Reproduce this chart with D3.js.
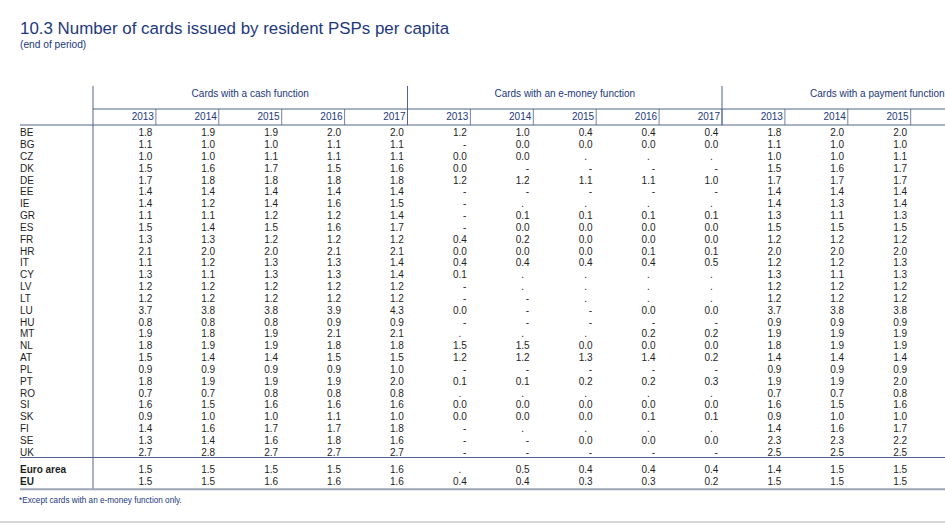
<!DOCTYPE html>
<html>
<head>
<meta charset="utf-8">
<script src="https://cdn.jsdelivr.net/npm/d3@7"></script>
<style>
  body { margin: 0; background: #fff; }
  text { font-family: "Liberation Sans", Arial, sans-serif; }
</style>
</head>
<body>
<svg></svg>
<script>
// data read off the table ("-" = nil, "." = not available)
var countries = ['BE', 'BG', 'CZ', 'DK', 'DE', 'EE', 'IE', 'GR', 'ES', 'FR', 'HR', 'IT', 'CY', 'LV',
  'LT', 'LU', 'HU', 'MT', 'NL', 'AT', 'PL', 'PT', 'RO', 'SI', 'SK', 'FI', 'SE', 'UK']
var aggregates = ['Euro area', 'EU']
var years = ['2013', '2014', '2015', '2016', '2017']
var groups = ['Cards with a cash function', 'Cards with an e-money function', 'Cards with a payment function*']

var cashValues = [
  [1.8, 1.9, 1.9, 2.0, 2.0], [1.1, 1.0, 1.0, 1.1, 1.1], [1.0, 1.0, 1.1, 1.1, 1.1], [1.5, 1.6, 1.7, 1.5, 1.6],
  [1.7, 1.8, 1.8, 1.8, 1.8], [1.4, 1.4, 1.4, 1.4, 1.4], [1.4, 1.2, 1.4, 1.6, 1.5], [1.1, 1.1, 1.2, 1.2, 1.4],
  [1.5, 1.4, 1.5, 1.6, 1.7], [1.3, 1.3, 1.2, 1.2, 1.2], [2.1, 2.0, 2.0, 2.1, 2.1], [1.1, 1.2, 1.3, 1.3, 1.4],
  [1.3, 1.1, 1.3, 1.3, 1.4], [1.2, 1.2, 1.2, 1.2, 1.2], [1.2, 1.2, 1.2, 1.2, 1.2], [3.7, 3.8, 3.8, 3.9, 4.3],
  [0.8, 0.8, 0.8, 0.9, 0.9], [1.9, 1.8, 1.9, 2.1, 2.1], [1.8, 1.9, 1.9, 1.8, 1.8], [1.5, 1.4, 1.4, 1.5, 1.5],
  [0.9, 0.9, 0.9, 0.9, 1.0], [1.8, 1.9, 1.9, 1.9, 2.0], [0.7, 0.7, 0.8, 0.8, 0.8], [1.6, 1.5, 1.6, 1.6, 1.6],
  [0.9, 1.0, 1.0, 1.1, 1.0], [1.4, 1.6, 1.7, 1.7, 1.8], [1.3, 1.4, 1.6, 1.8, 1.6], [2.7, 2.8, 2.7, 2.7, 2.7],
  [1.5, 1.5, 1.5, 1.5, 1.6], [1.5, 1.5, 1.6, 1.6, 1.6]
]

var emoneyValues = [
  [1.2, 1.0, 0.4, 0.4, 0.4], ['-', 0.0, 0.0, 0.0, 0.0], [0.0, 0.0, '.', '.', '.'], [0.0, '-', '-', '-', '-'],
  [1.2, 1.2, 1.1, 1.1, 1.0], ['-', '-', '-', '-', '-'], ['-', '.', '.', '.', '.'], ['-', 0.1, 0.1, 0.1, 0.1],
  ['-', 0.0, 0.0, 0.0, 0.0], [0.4, 0.2, 0.0, 0.0, 0.0], [0.0, 0.0, 0.0, 0.1, 0.1], [0.4, 0.4, 0.4, 0.4, 0.5],
  [0.1, '.', '.', '.', '.'], ['-', '.', '.', '.', '.'], ['-', '-', '.', '.', '.'], [0.0, '-', '-', 0.0, 0.0],
  ['-', '-', '-', '-', '-'], ['.', '.', '.', 0.2, 0.2], [1.5, 1.5, 0.0, 0.0, 0.0], [1.2, 1.2, 1.3, 1.4, 0.2],
  ['-', '-', '-', '-', '-'], [0.1, 0.1, 0.2, 0.2, 0.3], ['.', '.', '.', '.', '.'], [0.0, 0.0, 0.0, 0.0, 0.0],
  [0.0, 0.0, 0.0, 0.1, 0.1], ['-', '.', '.', '.', '.'], ['-', '-', 0.0, 0.0, 0.0], ['-', '-', '-', '-', '-'],
  ['.', 0.5, 0.4, 0.4, 0.4], [0.4, 0.4, 0.3, 0.3, 0.2]
]

// only 2013-2015 of the payment block are visible
var paymentValues = [
  [1.8, 2.0, 2.0], [1.1, 1.0, 1.0], [1.0, 1.0, 1.1], [1.5, 1.6, 1.7], [1.7, 1.7, 1.7], [1.4, 1.4, 1.4],
  [1.4, 1.3, 1.4], [1.3, 1.1, 1.3], [1.5, 1.5, 1.5], [1.2, 1.2, 1.2], [2.0, 2.0, 2.0], [1.2, 1.2, 1.3],
  [1.3, 1.1, 1.3], [1.2, 1.2, 1.2], [1.2, 1.2, 1.2], [3.7, 3.8, 3.8], [0.9, 0.9, 0.9], [1.9, 1.9, 1.9],
  [1.8, 1.9, 1.9], [1.4, 1.4, 1.4], [0.9, 0.9, 0.9], [1.9, 1.9, 2.0], [0.7, 0.7, 0.8], [1.6, 1.5, 1.6],
  [0.9, 1.0, 1.0], [1.4, 1.6, 1.7], [2.3, 2.3, 2.2], [2.5, 2.5, 2.5], [1.4, 1.5, 1.5], [1.5, 1.5, 1.5]
]

var svgWidth = 945, svgHeight = 531
var navy = '#22387d', lineCol = '#51628f', textCol = '#1e1e1e'
var labelX = 20, tableLeft = 93, colW = 62.9
var headTop = 86, groupLine = 109, headLine = 125

var svg = d3.select('svg')
  .attr('width', svgWidth)
  .attr('height', svgHeight)

// column scale: 15 year-columns (3 groups x 5 years), value = right edge of column i-1
var x = d3.scaleLinear().domain([0, 15]).range([tableLeft, tableLeft + 15 * colW])
// row scale for the countries, aggregates sit a little lower
var y = d3.scaleLinear().domain([0, countries.length - 1]).range([132.7, 452.3])
var allRows = countries.concat(aggregates)
function rowY(i) { return i < countries.length ? y(i) : y(i) + 5.4 }
var sepY = 457.5, bottomY = 489.3

// title
svg.append('text').attr('x', labelX).attr('y', 34)
  .attr('font-size', 16.9).attr('fill', navy)
  .text('10.3 Number of cards issued by resident PSPs per capita')
svg.append('text').attr('x', labelX).attr('y', 47.5)
  .attr('font-size', 10.2).attr('fill', navy)
  .text('(end of period)')

// header lines
svg.append('line').attr('x1', tableLeft).attr('x2', tableLeft)
  .attr('y1', headTop).attr('y2', bottomY).attr('stroke', lineCol)
groups.forEach(function(g, gi) {
  if (gi > 0) {
    svg.append('line').attr('x1', x(gi * 5)).attr('x2', x(gi * 5))
      .attr('y1', headTop).attr('y2', headLine).attr('stroke', lineCol)
  }
  svg.append('text')
    .attr('x', (x(gi * 5) + x(gi * 5 + 5)) / 2).attr('y', 93.3).attr('dy', '0.35em')
    .attr('text-anchor', 'middle').attr('font-size', 10).attr('fill', navy)
    .text(g)
  years.forEach(function(yr, yi) {
    var c = gi * 5 + yi + 1
    if (x(c) - 24 > svgWidth) return   // column lies past the page edge
    svg.append('line').attr('x1', x(c)).attr('x2', x(c))
      .attr('y1', groupLine).attr('y2', headLine).attr('stroke', lineCol).attr('stroke-width', 0.8)
    svg.append('text')
      .attr('x', x(c) - 2).attr('y', 116.8).attr('dy', '0.35em')
      .attr('text-anchor', 'end').attr('font-size', 10).attr('fill', navy)
      .text(yr)
  })
})
svg.append('line').attr('x1', tableLeft).attr('x2', svgWidth)
  .attr('y1', groupLine).attr('y2', groupLine).attr('stroke', lineCol)
svg.append('line').attr('x1', labelX).attr('x2', svgWidth)
  .attr('y1', headLine).attr('y2', headLine).attr('stroke', lineCol)
svg.append('line').attr('x1', labelX).attr('x2', svgWidth)
  .attr('y1', sepY).attr('y2', sepY).attr('stroke', lineCol)
svg.append('line').attr('x1', labelX).attr('x2', svgWidth)
  .attr('y1', bottomY).attr('y2', bottomY).attr('stroke', '#9ea4b3').attr('stroke-width', 2)

// row labels
svg.selectAll('text.row')
  .data(allRows)
  .enter()
  .append('text')
  .attr('class', 'row')
  .attr('x', labelX)
  .attr('y', function(d, i) { return rowY(i) })
  .attr('dy', '0.35em')
  .attr('font-size', 10)
  .attr('font-weight', function(d, i) { return i < countries.length ? 'normal' : 'bold' })
  .attr('fill', textCol)
  .text(function(d) { return d })

// cells
var fmt = d3.format('.1f')
var cells = []
;[cashValues, emoneyValues, paymentValues].forEach(function(block, gi) {
  block.forEach(function(row, ri) {
    row.forEach(function(v, yi) {
      cells.push({ col: gi * 5 + yi + 1, row: ri, v: v })
    })
  })
})

svg.selectAll('text.cell')
  .data(cells)
  .enter()
  .append('text')
  .attr('class', 'cell')
  .attr('x', function(d) {
    var right = x(d.col) - 3.6
    if (d.v === '-') return right - 0.5
    if (d.v === '.') return right - 5.6   // sits under the decimal point
    return right
  })
  .attr('y', function(d) { return rowY(d.row) })
  .attr('dy', '0.35em')
  .attr('text-anchor', 'end')
  .attr('font-size', 10)
  .attr('fill', textCol)
  .text(function(d) { return typeof d.v === 'number' ? fmt(d.v) : d.v })

// footnote + page rule
svg.append('text').attr('x', labelX - 1).attr('y', 500).attr('dy', '0.35em')
  .attr('font-size', 8.2).attr('fill', navy)
  .text('*Except cards with an e-money function only.')
svg.append('line').attr('x1', 0).attr('x2', svgWidth)
  .attr('y1', 522).attr('y2', 522).attr('stroke', '#c9c9c9').attr('stroke-width', 1.5)
</script>
</body>
</html>
